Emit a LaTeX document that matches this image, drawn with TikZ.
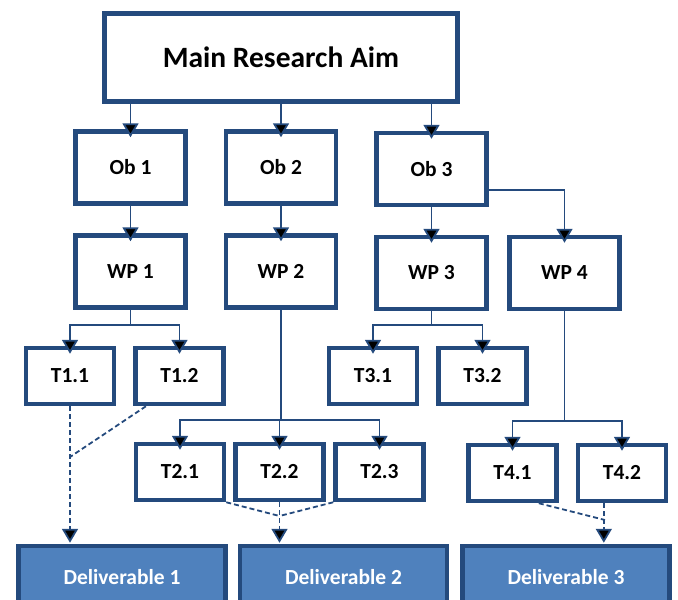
\documentclass[tikz,border=0pt]{standalone}
\usepackage{fontspec}
\setmainfont{Carlito}
\usetikzlibrary{arrows.meta}
\definecolor{wpblue}{RGB}{36,74,125}
\definecolor{delblue}{RGB}{79,129,189}
\tikzset{
>={Triangle[width=16pt,length=14pt]}, % filled arrow heads everywhere
box/.style={draw=wpblue,line width=4.5pt,fill=white,inner sep=0pt,
  font=\fontsize{21.5}{24}\bfseries\selectfont},
aim box/.style={box,minimum width=353pt,minimum height=88pt,
  font=\fontsize{29.5}{32}\bfseries\selectfont},
ob box/.style={box,minimum width=110pt,minimum height=72pt},
task box/.style={box,minimum width=88pt,minimum height=56pt},
deliv box/.style={box,fill=delblue,text=white,minimum width=207pt,minimum height=62pt},
link/.style={draw=wpblue,line width=1.8pt},
dash link/.style={link,dash pattern=on 5pt off 3pt},
into/.style={->,shorten >=-8pt}, % tip reaches into the box
into deliv/.style={->,shorten >=1pt},
fork/.style={to path={-- ++(0,#1) -| (\tikztotarget)}},
fork/.default=15,
elbow/.style={to path={-| (\tikztotarget)}},
}

\begin{document}
\begin{tikzpicture}[x=1pt,y=-1pt]
\clip (0,0) rectangle (678,600);
% aim and objectives
\node[aim box] (aim) at (281,57.5) {Main Research Aim};
\node[ob box] (ob1) at (130.5,167.5) {Ob 1};
\node[ob box] (ob2) at (281,167.5) {Ob 2};
\node[ob box] (ob3) at (431.5,169) {Ob 3};
% work packages
\node[ob box] (wp1) at (130.5,271.5) {WP 1};
\node[ob box] (wp2) at (281,271.5) {WP 2};
\node[ob box] (wp3) at (431.5,273) {WP 3};
\node[ob box] (wp4) at (564.5,273) {WP 4};
% tasks
\node[task box] (t11) at (70,376) {T1.1};
\node[task box] (t12) at (179.5,376) {T1.2};
\node[task box] (t31) at (373,376) {T3.1};
\node[task box] (t32) at (482.5,376) {T3.2};
\node[task box] (t21) at (180,472) {T2.1};
\node[task box] (t22) at (279.5,472) {T2.2};
\node[task box] (t23) at (379.5,472) {T2.3};
\node[task box] (t41) at (512.5,473) {T4.1};
\node[task box] (t42) at (622,473) {T4.2};
% deliverables
\node[deliv box] (d1) at (122,577) {Deliverable 1};
\node[deliv box] (d2) at (343.5,577) {Deliverable 2};
\node[deliv box] (d3) at (566,577) {Deliverable 3};
\coordinate (j1) at (70,457);
\coordinate (j2) at (279.5,516);
\coordinate (j3) at (605,520);
\path[link]
  (aim.south -| ob1) edge[into] (ob1)
  (aim.south -| ob2) edge[into] (ob2)
  (aim.south -| ob3) edge[into] (ob3)
  (ob1) edge[into] (wp1)
  (ob2) edge[into] (wp2)
  (ob3) edge[into] (wp3)
  ([yshift=-21pt]ob3.east) edge[elbow,into] (wp4.north)
  (wp1.south) edge[fork,into] (t11.north) edge[fork,into] (t12.north)
  (wp3.south) edge[fork=14,into] (t31.north) edge[fork=14,into] (t32.north)
  (wp2.south) edge[fork=110,into] (t21.north) edge[fork=110,into] (t22.north)
    edge[fork=110,into] (t23.north)
  (wp4.south) edge[fork=110,into] (t41.north) edge[fork=110,into] (t42.north);
\path[dash link]
  (t11) edge[into deliv] (t11 |- d1.north)
  (t12.222) edge (j1)
  (t21.south east) edge (j2)
  (t23.south west) edge (j2)
  (t22) edge[into deliv] (t22 |- d2.north)
  (t41.311) edge (j3)
  (t42.239) edge[into deliv] (t42.239 |- d3.north);
\end{tikzpicture}
\end{document}
